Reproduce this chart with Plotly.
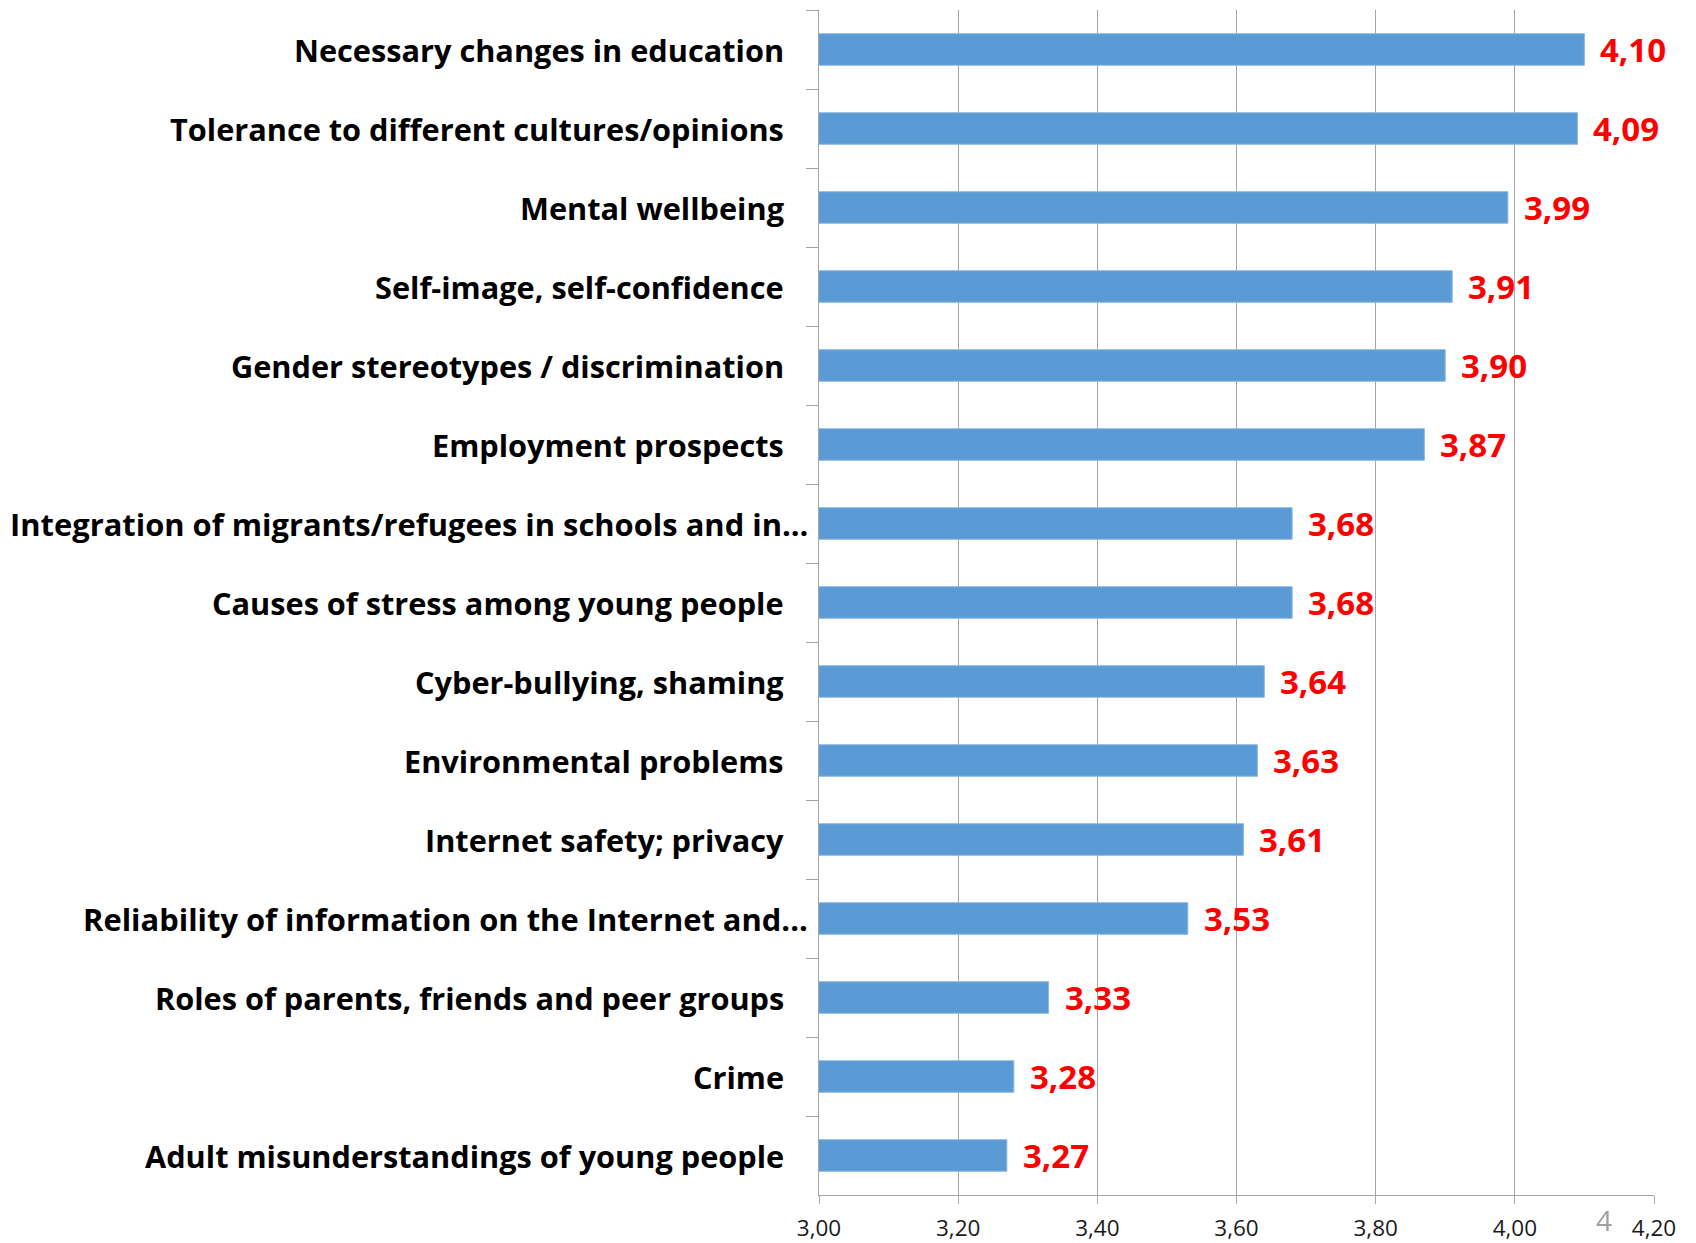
import plotly.graph_objects as go

categories = [
    "Necessary changes in education",
    "Tolerance to different cultures/opinions",
    "Mental wellbeing",
    "Self-image, self-confidence",
    "Gender stereotypes / discrimination",
    "Employment prospects",
    "Integration of migrants/refugees in schools and in...",
    "Causes of stress among young people",
    "Cyber-bullying, shaming",
    "Environmental problems",
    "Internet safety; privacy",
    "Reliability of information on the Internet and...",
    "Roles of parents, friends and peer groups",
    "Crime",
    "Adult misunderstandings of young people",
]
values = [4.10, 4.09, 3.99, 3.91, 3.90, 3.87, 3.68, 3.68, 3.64, 3.63, 3.61, 3.53, 3.33, 3.28, 3.27]
x_ticks = [3.00, 3.20, 3.40, 3.60, 3.80, 4.00, 4.20]
page_number = "4"

GRID = "#a6a6a6"
FONT = "Open Sans"

W, H = 1696, 1243
plot_l, plot_r, plot_t, plot_b = 819, 1654, 10, 1195
pw, ph = plot_r - plot_l, plot_b - plot_t

fig = go.Figure()
fig.add_trace(go.Bar(
    x=values, y=categories, orientation="h",
    base=0,
    marker=dict(color="#5b9bd5", line=dict(color="#8db9e3", width=1)),
    hoverinfo="x+y",
))

annotations = []
for cat, v in zip(categories, values):
    truncated = cat.endswith("...")
    annotations.append(dict(
        x=0, xref="paper", y=cat, yref="y",
        text=cat, showarrow=False, xanchor="right", yanchor="middle",
        xshift=-9 if truncated else -33,
        font=dict(family=FONT, size=30.9 if truncated else 30.7,
                  color="#000000", weight="bold"),
    ))
    annotations.append(dict(
        x=v, xref="x", y=cat, yref="y",
        text=f"{v:.2f}".replace(".", ","), showarrow=False,
        xanchor="left", yanchor="middle", xshift=14,
        font=dict(family=FONT, size=33, color="#ff0000", weight="bold"),
    ))
annotations.append(dict(
    x=(1604 - plot_l) / pw, y=(plot_b - 1220) / ph,
    xref="paper", yref="paper", text=page_number, showarrow=False,
    xanchor="center", yanchor="middle",
    font=dict(family=FONT, size=28, color="#a0a0a0"),
))

fig.update_layout(
    width=W, height=H,
    margin=dict(l=plot_l, r=W - plot_r, t=plot_t, b=H - plot_b, pad=0, autoexpand=False),
    plot_bgcolor="white", paper_bgcolor="white",
    bargap=0.6, showlegend=False,
    separators=",.",
    annotations=annotations,
    xaxis=dict(
        range=[3.0, 4.2], tickvals=x_ticks, tickformat=".2f",
        showgrid=True, gridcolor=GRID, gridwidth=1,
        showline=True, linecolor=GRID, linewidth=1,
        ticks="outside", ticklen=8, tickcolor=GRID,
        ticklabelstandoff=5,
        tickfont=dict(family=FONT, size=22.5, color="#1a1a1a"),
        zeroline=False, fixedrange=True, automargin=False,
    ),
    yaxis=dict(
        categoryorder="array", categoryarray=categories,
        autorange="reversed",
        showticklabels=False,
        showgrid=False, zeroline=False,
        showline=True, linecolor=GRID, linewidth=1,
        ticks="outside", ticklen=12, tickcolor=GRID, tickson="boundaries",
        fixedrange=True, automargin=False,
    ),
)

fig.write_html(
    "out.html",
    config={"displayModeBar": False, "staticPlot": True},
    post_script="document.body.style.margin='0';document.body.style.overflow='hidden';",
)
